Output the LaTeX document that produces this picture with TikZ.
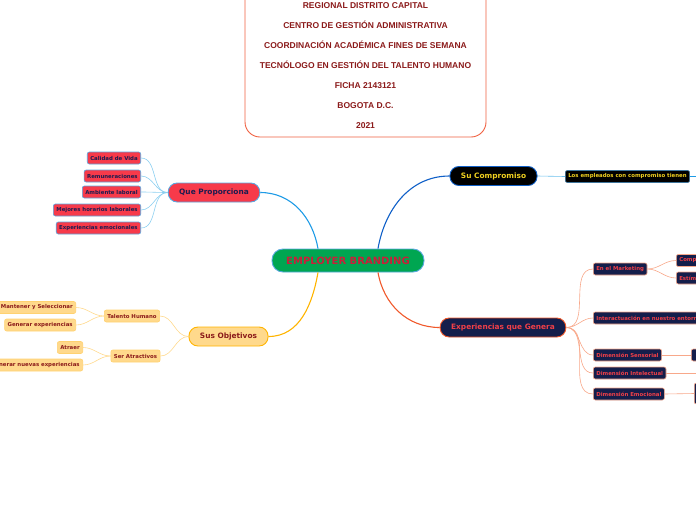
\documentclass[tikz,border=0pt]{standalone}
\usepackage{fontspec}
\newfontfamily\mapfont{DejaVu Sans}
\newfontfamily\titlefont{Liberation Sans}
\usetikzlibrary{positioning}

\definecolor{rootgreen}{HTML}{00A651}
\definecolor{rootred}{HTML}{C8203A}
\definecolor{skyline}{HTML}{1E9BE6}
\definecolor{skylight}{HTML}{8CCFF0}
\definecolor{skyedge}{HTML}{5AA8E0}
\definecolor{leafred}{HTML}{F73A4A}
\definecolor{navytext}{HTML}{1C1C50}
\definecolor{navyfill}{HTML}{141E4B}
\definecolor{darkblue}{HTML}{1060C8}
\definecolor{goldtext}{HTML}{F0D020}
\definecolor{orangeline}{HTML}{F0582A}
\definecolor{salmon}{HTML}{F8A88A}
\definecolor{redtext}{HTML}{F04048}
\definecolor{amber}{HTML}{FFB400}
\definecolor{paleamber}{HTML}{FFD98C}
\definecolor{wine}{HTML}{8B1A1A}
\definecolor{titleedge}{HTML}{F06040}

\begin{document}
\begin{tikzpicture}[x=1pt,y=-1pt,
    mainnode/.style={draw,line width=0.9pt,rounded corners=9pt,minimum height=19pt,
      inner xsep=11pt,inner ysep=0pt,font=\mapfont\bfseries\fontsize{7.4}{8}\selectfont},
    leafnode/.style={draw,line width=0.6pt,rounded corners=2pt,minimum height=12pt,
      inner xsep=3pt,inner ysep=0pt,font=\mapfont\bfseries\fontsize{5.4}{6}\selectfont},
    blueleaf/.style={leafnode,fill=leafred,draw=skyedge,text=navytext},
    yellowleaf/.style={leafnode,fill=paleamber,draw=paleamber!80!amber,text=wine},
    navyleaf/.style={leafnode,fill=navyfill,draw=salmon,text=redtext},
    branch/.style={line width=1.1pt},
    twig/.style={line width=0.6pt}]
  \clip (0,0) rectangle (696,520);

  % title box
  \node[draw=titleedge,line width=0.9pt,rounded corners=15pt,minimum width=241pt,
    minimum height=160pt,fill=white] (titlebox) at (365.5,57) {};
  \node[font=\titlefont\bfseries\fontsize{8.5}{20}\selectfont,text=wine,align=center]
    (titletext) at (365.5,66) {REGIONAL DISTRITO CAPITAL\\CENTRO DE GESTIÓN ADMINISTRATIVA\\
    COORDINACIÓN ACADÉMICA FINES DE SEMANA\\TECNÓLOGO EN GESTIÓN DEL TALENTO HUMANO\\
    FICHA 2143121\\BOGOTA D.C.\\2021};

  % centre
  \node[draw=skyedge,line width=0.9pt,fill=rootgreen,rounded corners=11pt,minimum width=152pt,
    minimum height=23pt,text=rootred,font=\mapfont\bfseries\fontsize{10}{11}\selectfont]
    (root) at (348,260.5) {EMPLOYER BRANDING};

  % left top
  \node[mainnode,fill=leafred,draw=skyedge,text=navytext] (prop) at (214,192.5) {Que Proporciona};
  \node[blueleaf,anchor=east] (calidad) at (141,158) {Calidad de Vida};
  \node[blueleaf,anchor=east] (remun) at (141,176) {Remuneraciones};
  \node[blueleaf,anchor=east] (ambiente) at (141,192) {Ambiente laboral};
  \node[blueleaf,anchor=east] (horarios) at (141,210) {Mejores horarios laborales};
  \node[blueleaf,anchor=east] (emociones) at (141,228) {Experiencias emocionales};
  \draw[branch,skyline] ([xshift=-30pt]root.north) to[out=100,in=0] (prop.east);
  \foreach \n in {calidad,remun,ambiente,horarios,emociones}
    \draw[twig,skylight] (prop.west) to[out=180,in=0] (\n.east);

  % left bottom
  \node[mainnode,fill=paleamber,draw=amber,text=wine] (objet) at (228.5,336.5) {Sus Objetivos};
  \node[yellowleaf] (talento) at (132,316) {Talento Humano};
  \node[yellowleaf] (atract) at (135.5,356) {Ser Atractivos};
  \node[yellowleaf,anchor=east] (mantener) at (76,307.5) {Mantener y Seleccionar};
  \node[yellowleaf,anchor=east] (generar) at (76,325) {Generar experiencias};
  \node[yellowleaf,anchor=east] (atraer) at (83,347.5) {Atraer};
  \node[yellowleaf,anchor=east] (nuevas) at (83,365) {Generar nuevas experiencias};
  \draw[branch,amber] ([xshift=-30pt]root.south) to[out=-100,in=0] (objet.east);
  \foreach \n in {talento,atract}
    \draw[twig,paleamber] (objet.west) to[out=180,in=0] (\n.east);
  \foreach \n in {mantener,generar}
    \draw[twig,paleamber] (talento.west) to[out=180,in=0] (\n.east);
  \foreach \n in {atraer,nuevas}
    \draw[twig,paleamber] (atract.west) to[out=180,in=0] (\n.east);

  % right top
  \node[mainnode,fill=black,draw=darkblue,text=goldtext] (compro) at (493.5,176) {Su Compromiso};
  \node[leafnode,fill=black,draw=skyedge!70!black,text=goldtext,anchor=west] (empleados)
    at (565,176.5) {Los empleados con compromiso tienen};
  \coordinate (edgeA) at (700,176.5);
  \draw[branch,darkblue] ([xshift=30pt]root.north) to[out=80,in=180] (compro.west);
  \draw[twig,skylight!70!skyline] (compro.east) -- (empleados.west);
  \draw[twig,skyline] (empleados.east) -- (edgeA);

  % right bottom
  \node[mainnode,fill=navyfill,draw=orangeline,text=redtext] (exper) at (503,327.5) {Experiencias que Genera};
  \node[navyleaf,anchor=west] (marketing) at (593,269) {En el Marketing};
  \node[navyleaf,anchor=west] (compmk) at (676,260.5) {Compromiso};
  \node[navyleaf,anchor=west] (estim) at (676,278) {Estímulo};
  \node[navyleaf,anchor=west] (interact) at (593,318) {Interactuación en nuestro entorno};
  \node[navyleaf,anchor=west] (sensorial) at (593,355) {Dimensión Sensorial};
  \node[navyleaf,anchor=west,minimum width=20pt] (sensmore) at (691,355) {};
  \node[navyleaf,anchor=west] (intelect) at (593,373) {Dimensión Intelectual};
  \node[navyleaf,anchor=west] (emocional) at (593,394) {Dimensión Emocional};
  \node[navyleaf,anchor=west,minimum width=20pt,minimum height=21pt] (emomore) at (694,393.5) {};
  \coordinate (edgeB) at (700,373);
  \draw[branch,orangeline] ([xshift=30pt]root.south) to[out=-80,in=180] (exper.west);
  \foreach \n in {marketing,interact,sensorial,intelect,emocional}
    \draw[twig,salmon] (exper.east) to[out=0,in=180] (\n.west);
  \foreach \n in {compmk,estim}
    \draw[twig,salmon] (marketing.east) to[out=0,in=180] (\n.west);
  \draw[twig,salmon] (sensorial.east) -- (sensmore.west);
  \draw[twig,salmon] (intelect.east) -- (edgeB);
  \draw[twig,salmon] (emocional.east) -- (emomore.west);
\end{tikzpicture}
\end{document}
